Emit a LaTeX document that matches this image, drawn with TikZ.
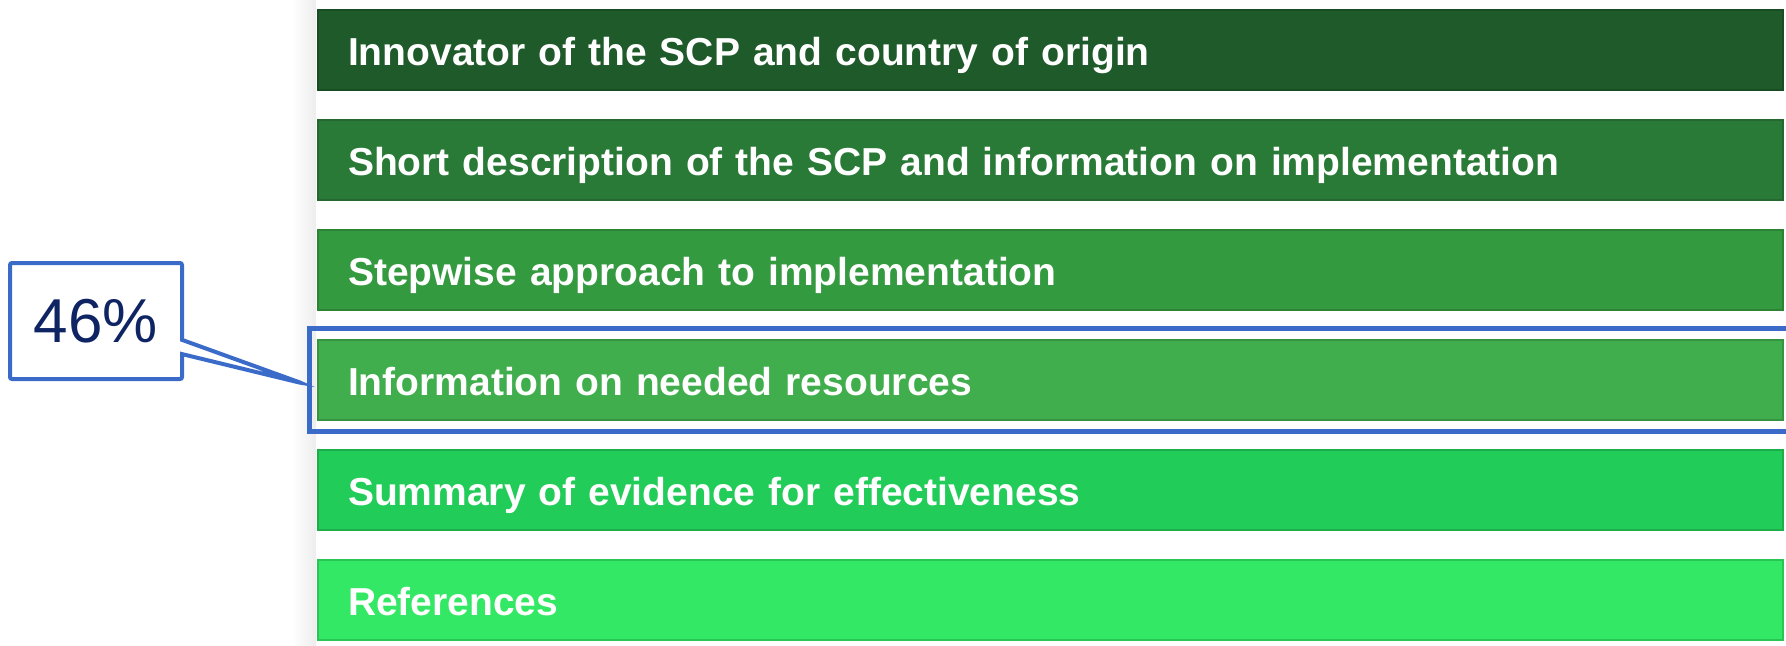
\documentclass[tikz,border=0pt]{standalone}
\usepackage{fontspec}
\setmainfont{Liberation Sans}
\usepackage{tikz}
\usetikzlibrary{positioning,shapes.callouts}
\definecolor{gA}{HTML}{1F5A2A}
\definecolor{gB}{HTML}{2A7A37}
\definecolor{gC}{HTML}{349A3F}
\definecolor{gD}{HTML}{40AE4C}
\definecolor{gE}{HTML}{22CC58}
\definecolor{gF}{HTML}{33E865}
\definecolor{markblue}{HTML}{3A6BC9}
\definecolor{navy}{HTML}{0F2462}
\tikzset{bar node/.style={rectangle,fill=#1,draw=#1!85!black,line width=0.6pt,minimum height=40pt,text width=702.5pt,text height=15.5pt,text depth=0pt,inner xsep=15pt,inner ysep=0pt,align=left,text=white,font=\fontsize{19.5}{23}\selectfont\bfseries},note/.style={rectangle callout,draw=markblue,line width=2pt,fill=white,minimum width=86pt,minimum height=58pt,inner sep=0pt,rounded corners=1pt,text=navy,font=\fontsize{31}{36}\selectfont},hilite/.style={draw=markblue,line width=2.5pt}}

\begin{document}
\begin{tikzpicture}
    \useasboundingbox (0,0) rectangle (893pt,-322.5pt);
    \shade[left color=white, right color=black!7] (146pt,0) rectangle (158pt,-322.5pt);
    \node[bar node=gA, on grid] (v1) at (525.25pt,-25pt) {Innovator of the SCP and country of origin};
    \node[bar node=gB, on grid] (v2) [below = 55pt of v1] {Short description of the SCP and information on implementation};
    \node[bar node=gC, on grid] (v3) [below = 55pt of v2] {Stepwise approach to implementation};
    \node[bar node=gD, on grid] (v4) [below = 55pt of v3] {Information on needed resources};
    \node[bar node=gE, on grid] (v5) [below = 55pt of v4] {Summary of evidence for effectiveness};
    \node[bar node=gF, on grid] (v6) [below = 55pt of v5] {References};
    \draw[hilite] ([xshift=-4pt,yshift=5.5pt]v4.north west) rectangle ([xshift=12pt,yshift=-5.5pt]v4.south east);
    \coordinate (tip) at ([xshift=-8pt,yshift=-1.5pt]v4.west);
    \node[note, callout absolute pointer={(tip)}] (share) at (48pt,-160.5pt) {46\%};
  \end{tikzpicture}
\end{document}
